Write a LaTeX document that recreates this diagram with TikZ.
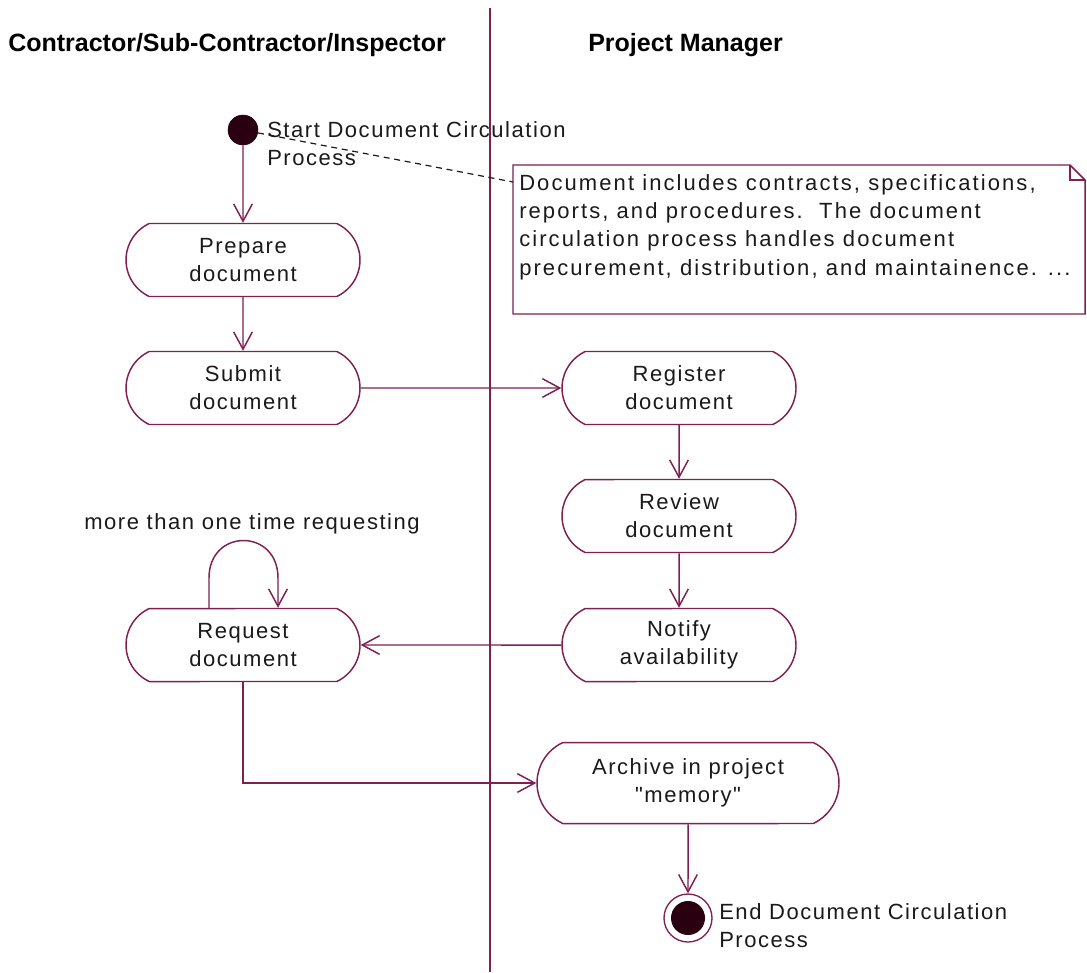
\documentclass[tikz,border=0pt]{standalone}
\usepackage{fontspec}
\setmainfont{Liberation Sans}
\newfontfamily\bodyfont{Liberation Sans}[LetterSpace=7]
\newfontfamily\notefont{Liberation Sans}[LetterSpace=9.5]
\usetikzlibrary{arrows.meta,shapes.misc,calc}

\definecolor{rose}{HTML}{7F2050}
\definecolor{blob}{HTML}{2A0010}
\definecolor{ink}{HTML}{1A1A1A}

\tikzset{
  every node/.style={font=\bodyfont\fontsize{16.5pt}{21pt}\selectfont, text=ink, inner sep=0pt},
  activity/.style={draw=rose, line width=1.1pt, rounded rectangle, rounded rectangle arc length=130,
    minimum width=175.5pt, minimum height=54.75pt, align=center, fill=white},
  wideactivity/.style={activity, minimum width=226.5pt, minimum height=60.75pt},
  flow/.style={draw=rose, line width=1.1pt, -{Straight Barb[length=13pt,width=14pt,line width=1.1pt]}},
  lanehead/.style={font=\bfseries\fontsize{18.75pt}{22pt}\selectfont, text=black, anchor=west},
  lanerule/.style={draw=rose, line width=1.2pt},
  noteframe/.style={draw=rose, line width=1.1pt},
  notebody/.style={font=\notefont\fontsize{16.5pt}{21.2pt}\selectfont, anchor=north west, align=left},
  anchorline/.style={draw=ink, line width=0.9pt, dash pattern=on 4.5pt off 3.5pt},
  sidelabel/.style={anchor=west, align=left}
}

\begin{document}
\begin{tikzpicture}[x=0.75pt, y=-0.75pt]
  % canvas
  \fill[white] (0,0) rectangle (1087,972);
  \useasboundingbox (0,0) rectangle (1087,972);

  % swimlanes
  \coordinate (laneTop) at (490,8);
  \coordinate (laneBot) at (490,972);
  \draw[lanerule] (laneTop) -- (laneBot);
  \node[lanehead] (laneA) at (8,45) {Contractor/Sub-Contractor/Inspector};
  \node[lanehead] (laneB) at (588,45) {Project Manager};

  % note with folded corner
  \coordinate (nNW) at (513,165);
  \coordinate (nFoldA) at (1070,165);
  \coordinate (nFoldB) at (1085,180);
  \coordinate (nFoldC) at (1070,180);
  \coordinate (nSE) at (1085,314);
  \coordinate (nSW) at (513,314);
  \coordinate (notePin) at (513,182);
  \draw[noteframe, fill=white] (nNW) -- (nFoldA) -- (nFoldB) -- (nSE) -- (nSW) -- cycle;
  \draw[noteframe] (nFoldA) -- (nFoldC) -- (nFoldB);
  \node[notebody] (noteText) at (519,174)
    {Document includes contracts, specifications,\\
     reports, and procedures.\ \ The document\\
     circulation process handles document\\
     precurement, distribution, and maintainence. ...};

  % start / end
  \node[circle, fill=blob, draw=blob, minimum size=22.5pt] (start) at (243,130) {};
  \node[sidelabel] (startLbl) at (267,144) {Start Document Circulation\\Process};
  \draw[anchorline] (start) -- (notePin);

  % activities
  \node[activity] (prep) at (243,260) {Prepare\\document};
  \node[activity] (sub)  at (243,388) {Submit\\document};
  \node[activity] (req)  at (243,645) {Request\\document};
  \node[activity] (reg)  at (679,388) {Register\\document};
  \node[activity] (rev)  at (679,516) {Review\\document};
  \node[activity] (notif) at (679,645) {Notify\\availability};
  \node[wideactivity] (arch) at (688,783) {Archive in project\\"memory"};

  \node[circle, draw=rose, line width=1pt, minimum size=36pt] (finish) at (688,918) {};
  \node[circle, fill=blob, minimum size=25.5pt] (finishCore) at (finish) {};
  \node[sidelabel] (finishLbl) at (719,926) {End Document Circulation\\Process};

  % self loop on Request
  \coordinate (loopL) at (209,578);
  \coordinate (loopR) at (278,578);
  \node (loopLbl) at (252,524) {more than one time requesting};
  \draw[flow] (req.north -| loopL) -- (loopL) .. controls +(0,-50) and +(0,-50) .. (loopR) -- (req.north -| loopR);

  % transitions
  \draw[flow] (start) -- (prep);
  \draw[flow] (prep) -- (sub);
  \draw[flow] (sub) -- (reg);
  \draw[flow] (reg) -- (rev);
  \draw[flow] (rev) -- (notif);
  \draw[flow] (notif) -- (req);
  \draw[flow] (req) |- (arch);
  \draw[flow] (arch) -- (finish);
\end{tikzpicture}
\end{document}
